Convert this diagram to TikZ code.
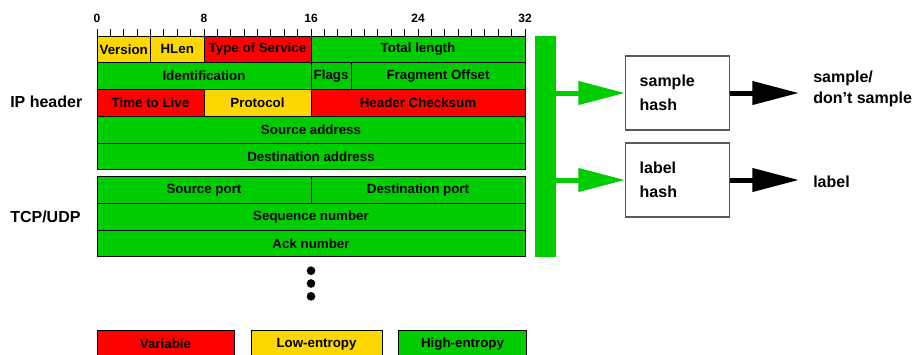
\documentclass[tikz,border=0pt]{standalone}
\usepackage{fontspec}
\setmainfont{Liberation Sans}
\usetikzlibrary{positioning, arrows.meta}

\definecolor{varred}{RGB}{255,0,0}
\definecolor{lowyellow}{RGB}{255,215,0}
\definecolor{highgreen}{RGB}{0,205,0}

\tikzstyle{field} = [rectangle, draw=black, line width=0.75pt, outer sep=0pt, inner sep=0pt, minimum height=20.0625pt, text centered, font=\fontsize{10}{12}\selectfont\bfseries]
\tikzstyle{varfield} = [field, fill=varred]
\tikzstyle{lowfield} = [field, fill=lowyellow]
\tikzstyle{highfield} = [field, fill=highgreen]
\tikzstyle{hashbox} = [rectangle, draw=black!65, line width=0.9pt, minimum width=78pt, minimum height=55.5pt, inner xsep=10.5pt, text width=57pt, align=left, font=\fontsize{12}{18}\selectfont\bfseries]
\tikzstyle{outtext} = [anchor=west, inner xsep=10.5pt, align=left, font=\fontsize{12}{15.75}\selectfont\bfseries]
\tikzstyle{header} = [anchor=west, inner sep=0pt, font=\fontsize{12}{14}\selectfont\bfseries]
\tikzstyle{greenarrow} = [draw=highgreen, line width=3.75pt, -{Triangle[length=35pt,width=17pt,fill=highgreen]}]
\tikzstyle{blackarrow} = [draw=black, line width=3.75pt, -{Triangle[length=35pt,width=17pt]}]
\tikzset{bits/.style={minimum width=#1*10.03125pt}}

\begin{document}
\begin{tikzpicture}[x=0.75pt, y=-0.75pt]
\useasboundingbox (0,0) rectangle (912,354);

% bit ruler
\draw[line width=0.75pt] (97,36) -- (525,36);
\foreach \b in {0,...,32}
  \draw[line width=0.75pt] (97+13.375*\b,29) -- (97+13.375*\b,36);
\foreach \b in {0,8,...,32}
  \node (tick\b) [font=\fontsize{9}{10}\selectfont\bfseries] at (97+13.375*\b,18) {\b};

% IP header
\node (version) [lowfield, bits=4, anchor=north west] at (97,36) {Version};
\node (hlen) [lowfield, bits=4, right=0pt of version] {HLen};
\node (tos) [varfield, bits=8, right=0pt of hlen] {Type of Service};
\node (totlen) [highfield, bits=16, right=0pt of tos] {Total length};
\node (ident) [highfield, bits=16, anchor=north west] at (version.south west) {Identification};
\node (flags) [highfield, bits=3, right=0pt of ident] {Flags};
\node (fragoff) [highfield, bits=13, right=0pt of flags] {Fragment Offset};
\node (ttl) [varfield, bits=8, anchor=north west] at (ident.south west) {Time to Live};
\node (proto) [lowfield, bits=8, right=0pt of ttl] {Protocol};
\node (checksum) [varfield, bits=16, right=0pt of proto] {Header Checksum};
\node (srcaddr) [highfield, bits=32, anchor=north west] at (ttl.south west) {Source address};
\node (dstaddr) [highfield, bits=32, anchor=north west] at (srcaddr.south west) {Destination address};

% TCP/UDP header
\node (srcport) [highfield, bits=16, anchor=north west] at (97,176.7) {Source port};
\node (dstport) [highfield, bits=16, right=0pt of srcport] {Destination port};
\node (seqnum) [highfield, bits=32, anchor=north west] at (srcport.south west) {Sequence number};
\node (acknum) [highfield, bits=32, anchor=north west] at (seqnum.south west) {Ack number};

\node (iphdr) [header] at (10,102) {IP header};
\node (tcphdr) [header] at (10,217) {TCP/UDP};

% more fields
\foreach \y [count=\i] in {270.7,283.5,296.3}
  \node (dot\i) [circle, fill=black, inner sep=0pt, minimum size=6.5pt] at (311,\y) {};

% hashing
\node (bar) [rectangle, fill=highgreen, inner sep=0pt, minimum width=15.75pt, minimum height=165.75pt] at (545.5,146.5) {};
\node (samplehash) [hashbox] at (677.7,93) {sample\\hash};
\node (labelhash) [hashbox] at (677.7,180) {label\\hash};
\node (decision) [outtext] at (799,88.5) {sample/\\don't sample};
\node (labelout) [outtext] at (799,182) {label};

\draw [greenarrow] (bar.east |- samplehash.west) -- (samplehash.west);
\draw [greenarrow] (bar.east |- labelhash.west) -- (labelhash.west);
\draw [blackarrow] (samplehash.east) -- (samplehash.east -| decision.west);
\draw [blackarrow] (labelhash.east) -- (labelhash.east -| labelout.west);

% legend
\node (legvar) [varfield, minimum width=102.75pt, anchor=north west] at (97,330.7) {Variable};
\node (leglow) [lowfield, minimum width=98.25pt, anchor=north west] at (251,330.7) {Low-entropy};
\node (leghigh) [highfield, minimum width=96pt, anchor=north west] at (398.5,330.7) {High-entropy};
\end{tikzpicture}
\end{document}
